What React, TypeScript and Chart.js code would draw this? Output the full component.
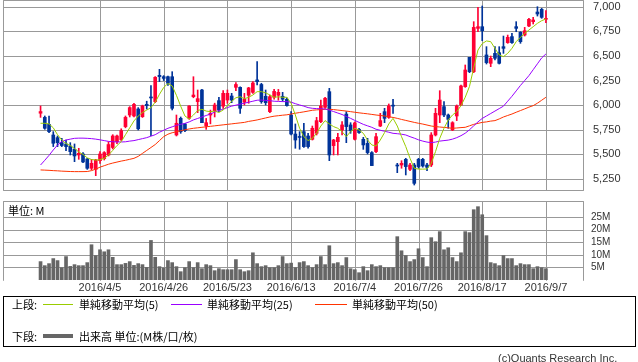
import React, { useEffect, useRef } from "react";
import { Chart, registerables } from "chart.js";

Chart.register(...registerables);

// ---- axis ticks / labels ----
const dateTicks = [14, 29, 44, 59, 74, 89, 104, 119];
const dateLabels = ["2016/4/5", "2016/4/26", "2016/5/23", "2016/6/13", "2016/7/4", "2016/7/26", "2016/8/17", "2016/9/7"];
const priceTicks = [5250, 5500, 5750, 6000, 6250, 6500, 6750, 7000];
const volumeTicks = [5, 10, 15, 20, 25];

// ---- daily prices (trading-day index 0..119) ----
const opens = [
  5918, 5876, 5805, 5697, 5670, 5619, 5606, 5585, 5552, 5494,
  5504, 5453, 5359, 5348, 5436, 5457, 5494, 5570, 5629, 5650,
  5782, 5900, 5890, 5961, 5883, 6008, 6083, 6036, 6303, 6289,
  6289, 6289, 5697, 5866, 5809, 5866, 6086, 6036, 6154, 5789,
  5900, 5944, 6046, 5990, 6052, 6093, 6181, 6181, 6030, 6100,
  6130, 6256, 6210, 6090, 5934, 6080, 6100, 6090, 6060, 5900,
  5707, 5680, 5731, 5687, 5653, 5714, 5832, 5978, 6137, 5589,
  5629, 5748, 5910, 5799, 5653, 5755, 5653, 5612, 5518, 5528,
  5788, 5934, 5876, 5998, 5392, 5392, 5450, 5348, 5392, 5450,
  5450, 5392, 5392, 5697, 5900, 5985, 5900, 5748, 5890, 6002,
  6188, 6486, 6340, 6780, 6797, 6510, 6425, 6526, 6533, 6594,
  6635, 6696, 6797, 6740, 6712, 6804, 6848, 6946, 6973, 6872,
];
const highs = [
  5992, 5890, 5890, 5731, 5687, 5663, 5646, 5619, 5606, 5562,
  5518, 5460, 5450, 5450, 5528, 5528, 5629, 5700, 5695, 5760,
  5890, 5985, 6019, 5975, 6000, 6040, 6200, 6290, 6364, 6300,
  6295, 6340, 5900, 5880, 5816, 5995, 6289, 6154, 6160, 5865,
  5950, 6020, 6080, 6147, 6154, 6120, 6229, 6185, 6120, 6181,
  6239, 6442, 6222, 6154, 6103, 6160, 6160, 6130, 6075, 5934,
  5809, 5731, 5816, 5714, 5788, 5876, 6052, 6080, 6171, 5653,
  5714, 5832, 5934, 5822, 5830, 5765, 5673, 5663, 5528, 5714,
  5917, 5968, 6012, 6059, 5409, 5436, 5460, 5409, 5409, 5460,
  5460, 5409, 5721, 5968, 6147, 6036, 5910, 5832, 6002, 6205,
  6408, 6486, 6848, 6993, 7007, 6594, 6499, 6594, 6594, 6702,
  6712, 6729, 6848, 6746, 6790, 6882, 6892, 7000, 6983, 6960,
];
const lows = [
  5876, 5755, 5721, 5579, 5579, 5579, 5538, 5494, 5426, 5450,
  5416, 5348, 5342, 5284, 5409, 5443, 5484, 5555, 5610, 5640,
  5770, 5880, 5880, 5748, 5875, 5960, 5690, 6025, 6239, 6250,
  6200, 5951, 5687, 5714, 5731, 5856, 6075, 5924, 5822, 5755,
  5810, 5880, 5934, 5968, 6019, 6025, 6147, 5917, 6002, 6019,
  6120, 6205, 6019, 6002, 5924, 6060, 6050, 6040, 5990, 5697,
  5562, 5552, 5572, 5562, 5646, 5697, 5822, 5968, 5436, 5494,
  5494, 5697, 5619, 5714, 5646, 5714, 5551, 5504, 5386, 5518,
  5782, 5822, 5866, 5917, 5314, 5359, 5291, 5335, 5189, 5359,
  5370, 5335, 5376, 5687, 5822, 5883, 5765, 5741, 5843, 5995,
  6181, 6330, 6330, 6746, 6655, 6418, 6391, 6459, 6418, 6526,
  6628, 6628, 6746, 6628, 6702, 6797, 6824, 6905, 6882, 6838,
];
const closes = [
  5935, 5765, 5731, 5613, 5619, 5590, 5579, 5528, 5484, 5511,
  5423, 5359, 5409, 5443, 5504, 5518, 5600, 5687, 5687, 5741,
  5876, 5975, 6008, 5760, 5992, 5995, 6073, 6283, 6290, 6272,
  6222, 5968, 5816, 5730, 5741, 5991, 6103, 6066, 5822, 5822,
  5917, 6002, 5951, 6120, 6120, 6052, 6210, 5968, 6060, 6175,
  6225, 6239, 6036, 6025, 6086, 6140, 6130, 6060, 5995, 5707,
  5646, 5672, 5579, 5579, 5765, 5843, 5992, 6070, 5494, 5646,
  5673, 5799, 5782, 5741, 5820, 5721, 5596, 5518, 5386, 5680,
  5843, 5866, 5992, 5990, 5382, 5409, 5376, 5392, 5206, 5376,
  5382, 5369, 5697, 5917, 6052, 5900, 5856, 5822, 5992, 6195,
  6357, 6340, 6790, 6797, 6756, 6432, 6476, 6476, 6425, 6577,
  6689, 6635, 6780, 6645, 6756, 6872, 6865, 6926, 6892, 6882,
];

// ---- moving averages ----
const sma5 = [
  5816, 5816, 5810, 5770, 5700, 5646, 5610, 5590, 5560, 5525,
  5500, 5465, 5448, 5443, 5445, 5460, 5494, 5540, 5590, 5629,
  5700, 5770, 5840, 5890, 5925, 5950, 5975, 6030, 6110, 6180,
  6220, 6195, 6100, 5990, 5890, 5860, 5900, 5945, 5958, 5940,
  5934, 5940, 5925, 5951, 5992, 6040, 6075, 6086, 6065, 6080,
  6103, 6137, 6137, 6125, 6103, 6080, 6085, 6080, 6080, 6019,
  5900, 5765, 5680, 5640, 5663, 5714, 5788, 5843, 5809, 5782,
  5765, 5731, 5680, 5731, 5765, 5748, 5714, 5646, 5596, 5585,
  5646, 5721, 5809, 5866, 5788, 5680, 5579, 5460, 5359, 5350,
  5350, 5352, 5409, 5528, 5663, 5765, 5849, 5900, 5934, 5995,
  6080, 6190, 6380, 6560, 6625, 6652, 6645, 6577, 6510, 6493,
  6526, 6577, 6645, 6689, 6729, 6763, 6797, 6831, 6858, 6875,
];
const sma25 = [
  5392, 5440, 5490, 5545, 5595, 5630, 5646, 5655, 5663, 5665,
  5665, 5663, 5660, 5655, 5648, 5640, 5632, 5628, 5626, 5626,
  5628, 5635, 5640, 5650, 5660, 5670, 5685, 5700, 5725, 5745,
  5765, 5780, 5795, 5805, 5815, 5830, 5850, 5865, 5880, 5895,
  5910, 5930, 5945, 5960, 5975, 5990, 6000, 6010, 6020, 6030,
  6040, 6050, 6052, 6048, 6045, 6040, 6038, 6036, 6036, 6030,
  6015, 6002, 5990, 5975, 5968, 5965, 5963, 5961, 5950, 5935,
  5920, 5905, 5885, 5866, 5845, 5825, 5805, 5790, 5775, 5755,
  5745, 5735, 5725, 5714, 5710, 5705, 5697, 5680, 5665, 5648,
  5635, 5625, 5619, 5625, 5635, 5640, 5645, 5655, 5670, 5690,
  5715, 5750, 5790, 5830, 5865, 5890, 5915, 5940, 5965, 5990,
  6040, 6090, 6145, 6200, 6250, 6300, 6360, 6420, 6480, 6520,
];
const sma50 = [
  5342, 5340, 5338, 5335, 5333, 5330, 5328, 5326, 5325, 5325,
  5325, 5326, 5335, 5350, 5370, 5385, 5400, 5412, 5422, 5432,
  5440, 5450, 5460, 5480, 5510, 5540, 5570, 5600, 5640, 5680,
  5705, 5720, 5730, 5740, 5750, 5758, 5765, 5770, 5775, 5780,
  5785, 5790, 5795, 5800, 5805, 5810, 5815, 5820, 5825, 5835,
  5842, 5850, 5860, 5870, 5880, 5888, 5893, 5898, 5902, 5910,
  5918, 5925, 5932, 5940, 5948, 5952, 5955, 5958, 5958, 5955,
  5950, 5945, 5940, 5934, 5928, 5922, 5917, 5912, 5906, 5900,
  5895, 5890, 5883, 5875, 5866, 5855, 5845, 5835, 5825, 5816,
  5808, 5798, 5788, 5782, 5778, 5774, 5770, 5765, 5768, 5772,
  5775, 5790, 5805, 5815, 5825, 5830, 5838, 5843, 5860, 5880,
  5895, 5910, 5928, 5945, 5962, 5980, 5995, 6020, 6050, 6080,
];

// ---- volume (million shares) ----
const volumes = [
  7.3, 5.7, 6.5, 8.5, 7.7, 4.9, 9.3, 5.4, 6.1, 5.7,
  5.7, 6.9, 14.0, 9.7, 12.0, 11.2, 12.0, 9.0, 6.1, 6.1,
  6.6, 7.3, 5.8, 6.5, 6.1, 5.0, 15.7, 9.0, 5.3, 4.8,
  7.7, 6.9, 5.3, 3.3, 4.9, 7.3, 4.9, 6.9, 4.5, 6.1,
  5.7, 3.7, 4.5, 4.1, 4.1, 4.1, 8.1, 4.1, 3.3, 3.7,
  10.8, 6.5, 5.3, 5.7, 4.9, 4.9, 5.7, 9.3, 6.5, 6.7,
  4.9, 6.9, 7.3, 5.7, 4.9, 6.1, 9.3, 6.1, 13.6, 6.5,
  6.9, 5.7, 8.9, 4.5, 4.1, 2.9, 5.3, 3.7, 6.1, 5.3,
  5.7, 4.9, 4.9, 4.9, 17.2, 11.6, 9.7, 7.3, 8.1, 12.4,
  8.9, 5.3, 16.8, 15.2, 19.2, 12.0, 12.8, 8.9, 7.3, 10.8,
  19.2, 18.8, 27.9, 29.1, 25.9, 17.6, 6.9, 6.5, 5.7, 9.7,
  8.5, 8.5, 5.7, 6.5, 6.1, 6.1, 4.5, 5.3, 4.9, 4.5,
];

const RED = "#ff0033";
const BLUE = "#003399";
const GRID = "#999999";
const C_SMA5 = "#99cc00";
const C_SMA25 = "#9900ff";
const C_SMA50 = "#ff3300";
const VOL = "#666666";
const NUM_FONT = '"Liberation Sans", Arial, sans-serif';
const JP_FONT = '"Noto Sans CJK JP", "Noto Sans", sans-serif';

const X_MIN = -8.84;
const X_MAX = 127.73;

// draws grid + frame using the chart's own scales
function paintGrid(ctx: CanvasRenderingContext2D, chart: any, yTicks: number[], withBottom: boolean) {
  const a = chart.chartArea;
  const sx = chart.scales.x;
  const sy = chart.scales.y;
  const L = Math.round(a.left) + 0.5;
  const R = Math.round(a.right) + 0.5;
  const T = Math.round(a.top) + 0.5;
  const B = Math.round(a.bottom) + 0.5;
  ctx.save();
  ctx.strokeStyle = GRID;
  ctx.lineWidth = 1;
  ctx.beginPath();
  for (const v of dateTicks) {
    const x = Math.round(sx.getPixelForValue(v)) + 0.5;
    ctx.moveTo(x, T);
    ctx.lineTo(x, B);
  }
  for (const v of yTicks) {
    const y = Math.round(sy.getPixelForValue(v)) + 0.5;
    ctx.moveTo(L, y);
    ctx.lineTo(R, y);
  }
  ctx.stroke();
  ctx.beginPath();
  if (withBottom) {
    ctx.rect(L, T, R - L, B - T);
  } else {
    ctx.moveTo(L, B);
    ctx.lineTo(L, T);
    ctx.lineTo(R, T);
    ctx.lineTo(R, B);
  }
  ctx.stroke();
  ctx.restore();
}

const gridPlugin = (yTicks: number[], withBottom: boolean) => ({
  id: "gridframe",
  beforeDatasetsDraw(chart: any) {
    paintGrid(chart.ctx, chart, yTicks, withBottom);
  },
});

const zeroPad = (s: any) => {
  s.paddingTop = 0;
  s.paddingBottom = 0;
  s.paddingLeft = 0;
  s.paddingRight = 0;
};

function xScale(showLabels: boolean, height: number) {
  return {
    type: "linear",
    min: X_MIN,
    max: X_MAX,
    offset: false,
    grid: { display: false, offset: false, drawTicks: false },
    border: { display: false },
    afterBuildTicks: (s: any) => {
      s.ticks = dateTicks.map((v) => ({ value: v }));
    },
    afterFit: (s: any) => {
      s.height = height;
      zeroPad(s);
    },
    ticks: {
      display: showLabels,
      autoSkip: false,
      maxRotation: 0,
      padding: 1,
      color: "#333",
      font: { family: NUM_FONT, size: 11 },
      callback: (v: any) => {
        const k = dateTicks.indexOf(Number(v));
        return k >= 0 ? dateLabels[k] : "";
      },
    },
  };
}

function topConfig(): any {
  const idx = closes.map((_, i) => i);
  const colors = idx.map((i) => (closes[i] >= opens[i] ? RED : BLUE));
  const line = (arr: number[], color: string, order: number) => ({
    type: "line",
    data: arr.map((v, i) => ({ x: i, y: v })),
    borderColor: color,
    borderWidth: 1,
    pointRadius: 0,
    tension: 0,
    fill: false,
    order,
  });
  return {
    type: "bar",
    data: {
      datasets: [
        {
          type: "bar",
          data: idx.map((i) => ({ x: i, y: [lows[i], highs[i]] })),
          backgroundColor: colors,
          grouped: false,
          maxBarThickness: 1,
          barPercentage: 1,
          categoryPercentage: 1,
          order: 10,
        },
        {
          type: "bar",
          data: idx.map((i) => ({ x: i, y: [opens[i], closes[i]] })),
          backgroundColor: colors,
          grouped: false,
          maxBarThickness: 3,
          barPercentage: 1,
          categoryPercentage: 1,
          minBarLength: 1,
          order: 9,
        },
        line(sma50, C_SMA50, 3),
        line(sma25, C_SMA25, 2),
        line(sma5, C_SMA5, 1),
      ],
    },
    options: {
      responsive: false,
      animation: false,
      events: [],
      layout: { autoPadding: false, padding: { left: 3, right: 0, top: 0, bottom: 1 } },
      plugins: { legend: { display: false }, tooltip: { enabled: false } },
      scales: {
        x: xScale(false, 0),
        y: {
          type: "linear",
          position: "right",
          min: 5138.3,
          max: 7068,
          grid: { display: false, drawTicks: false },
          border: { display: false },
          afterBuildTicks: (s: any) => {
            s.ticks = priceTicks.map((v) => ({ value: v }));
          },
          afterFit: (s: any) => {
            s.width = 55;
            zeroPad(s);
          },
          ticks: {
            padding: 10,
            color: "#333",
            font: { family: NUM_FONT, size: 11 },
            callback: (v: any) => Number(v).toLocaleString("en-US"),
          },
        },
      },
    },
    plugins: [gridPlugin(priceTicks, true)],
  };
}

function volConfig(): any {
  return {
    type: "bar",
    data: {
      datasets: [
        {
          type: "bar",
          data: volumes.map((v, i) => ({ x: i, y: v })),
          backgroundColor: VOL,
          grouped: false,
          maxBarThickness: 3,
          barPercentage: 1,
          categoryPercentage: 1,
        },
      ],
    },
    options: {
      responsive: false,
      animation: false,
      events: [],
      layout: { autoPadding: false, padding: { left: 3, right: 0, top: 1, bottom: 0 } },
      plugins: { legend: { display: false }, tooltip: { enabled: false } },
      scales: {
        x: xScale(true, 15),
        y: {
          type: "linear",
          position: "right",
          min: 0,
          max: 31.35,
          grid: { display: false, drawTicks: false },
          border: { display: false },
          afterBuildTicks: (s: any) => {
            s.ticks = volumeTicks.map((v) => ({ value: v }));
          },
          afterFit: (s: any) => {
            s.width = 55;
            zeroPad(s);
          },
          ticks: {
            padding: 8,
            color: "#333",
            font: { family: NUM_FONT, size: 10 },
            callback: (v: any) => `${v}M`,
          },
        },
      },
    },
    plugins: [gridPlugin(volumeTicks, false)],
  };
}

function Txt(props: { x: number; cy: number; size?: number; color?: string; font?: string; children: React.ReactNode }) {
  const { x, cy, size = 11, color = "#000", font = JP_FONT, children } = props;
  return (
    <div
      style={{
        position: "absolute",
        left: x,
        top: cy - 7,
        lineHeight: "14px",
        height: 14,
        fontSize: size,
        fontFamily: font,
        color,
        whiteSpace: "nowrap",
      }}
    >
      {children}
    </div>
  );
}

function Swatch(props: { x: number; cy: number; w: number; h: number; color: string }) {
  const { x, cy, w, h, color } = props;
  return (
    <div
      style={{
        position: "absolute",
        left: x,
        top: cy - Math.floor(h / 2),
        width: w,
        height: h,
        background: color,
      }}
    />
  );
}

export default function App() {
  const topRef = useRef<HTMLCanvasElement>(null);
  const volRef = useRef<HTMLCanvasElement>(null);
  const topBg = useRef<HTMLCanvasElement>(null);
  const volBg = useRef<HTMLCanvasElement>(null);

  useEffect(() => {
    const top = new Chart(topRef.current as HTMLCanvasElement, topConfig());
    const vol = new Chart(volRef.current as HTMLCanvasElement, volConfig());
    // backing layer: same grid, painted from the charts' scales
    const bgPairs: [HTMLCanvasElement | null, any, number[], boolean][] = [
      [topBg.current, top, priceTicks, true],
      [volBg.current, vol, volumeTicks, false],
    ];
    for (const [cv, ch, ticks, wb] of bgPairs) {
      if (!cv) continue;
      const c2 = cv.getContext("2d");
      if (!c2) continue;
      c2.clearRect(0, 0, cv.width, cv.height);
      paintGrid(c2, ch, ticks, wb);
    }
    return () => {
      top.destroy();
      vol.destroy();
    };
  }, []);

  return (
    <div
      style={{
        position: "absolute",
        left: 0,
        top: 0,
        width: 638,
        height: 362,
        background: "#fff",
        overflow: "hidden",
      }}
    >
      <canvas ref={topBg} width={638} height={191} style={{ position: "absolute", left: 0, top: 0, width: 638, height: 191 }} />
      <canvas ref={volBg} width={638} height={95} style={{ position: "absolute", left: 0, top: 200, width: 638, height: 95 }} />
      <canvas ref={topRef} width={638} height={191} style={{ position: "absolute", left: 0, top: 0, width: 638, height: 191 }} />
      <canvas ref={volRef} width={638} height={95} style={{ position: "absolute", left: 0, top: 200, width: 638, height: 95 }} />

      <Txt x={8} cy={210}>単位: M</Txt>

      <div
        style={{
          position: "absolute",
          left: 3,
          top: 296,
          width: 633,
          height: 51,
          boxSizing: "border-box",
          border: "1px solid #000",
        }}
      />
      <Txt x={12} cy={304}>上段:</Txt>
      <Swatch x={43} cy={304} w={30} h={1} color={C_SMA5} />
      <Txt x={79} cy={304}>単純移動平均(5)</Txt>
      <Swatch x={171} cy={304} w={31} h={1} color={C_SMA25} />
      <Txt x={207} cy={304}>単純移動平均(25)</Txt>
      <Swatch x={315} cy={304} w={32} h={1} color={C_SMA50} />
      <Txt x={352} cy={304}>単純移動平均(50)</Txt>

      <Txt x={12} cy={336}>下段:</Txt>
      <Swatch x={43} cy={336} w={30} h={4} color={VOL} />
      <Txt x={79} cy={336}>出来高 単位:(M株/口/枚)</Txt>

      <Txt x={498} cy={358} color="#333" font={NUM_FONT}>(c)Quants Research Inc.</Txt>
    </div>
  );
}
